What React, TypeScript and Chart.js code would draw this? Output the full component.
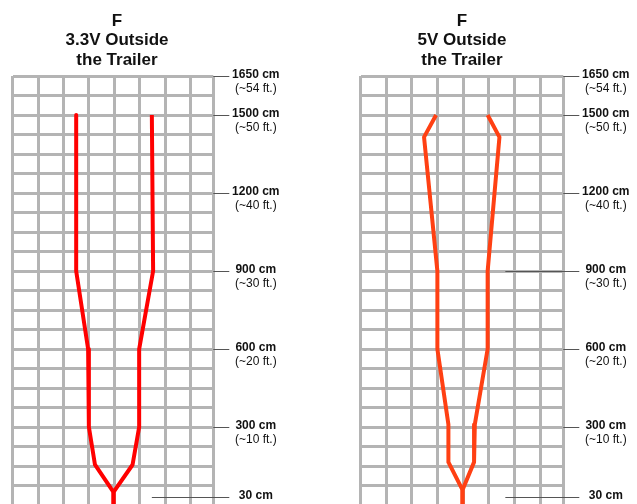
import React, { useEffect, useRef } from "react";
import { Chart, registerables } from "chart.js";

Chart.register(...registerables);

// ---- data ----
const title33 = ["F", "3.3V Outside", "the Trailer"];
const title5 = ["F", "5V Outside", "the Trailer"];

const labelCm = [1650, 1500, 1200, 900, 600, 300, 30];
const cmLabels = ["1650 cm", "1500 cm", "1200 cm", "900 cm", "600 cm", "300 cm", "30 cm"];
const ftLabels = ["(~54 ft.)", "(~50 ft.)", "(~40 ft.)", "(~30 ft.)", "(~20 ft.)", "(~10 ft.)", "(~1 ft.)"];

// leader-line start (grid column units) for each label
const leaderStart33 = [7.9, 7.9, 7.9, 7.9, 7.9, 7.9, 5.48];
const leaderStart5 = [7.9, 7.9, 7.9, 5.64, 7.9, 7.9, 5.64];

// 3.3V boundary (height in cm, lateral position in grid columns)
const heights33 = [1500, 900, 600, 300, 155, 50, 0];
const leftEdge33 = [2.5, 2.5, 2.97, 3.0, 3.24, 3.97, 3.97];
const rightEdge33 = [5.48, 5.53, 4.98, 4.98, 4.72, 3.97, 3.97];

// 5V boundary
const heights5 = [1500, 1415, 900, 600, 310, 165, 58, 0];
const leftEdge5 = [2.94, 2.47, 2.99, 2.99, 3.42, 3.42, 3.97, 3.97];
const rightEdge5 = [4.95, 5.41, 4.95, 4.95, 4.45, 4.42, 3.97, 3.97];

// grid definition
const gridColumns = [0, 1, 2, 3, 4, 5, 6, 7, 7.9];
const gridRowStep = 75;
const yMax = 1650;
const yMin = 4;

const FONT = '"Liberation Sans", Arial, Helvetica, sans-serif';

const annotatePlugin = {
  id: "annotate",
  afterDraw(chart: any, _args: any, opts: any) {
    const { ctx, chartArea, scales } = chart;
    ctx.save();
    ctx.fillStyle = "#111";
    ctx.textAlign = "center";
    ctx.textBaseline = "middle";
    ctx.font = `bold 17px ${FONT}`;
    const cx = (chartArea.left + chartArea.right) / 2 + (opts.titleShift || 0);
    (opts.title as string[]).forEach((t, i) => ctx.fillText(t, cx, 21 + i * 19.7));

    const lx = chartArea.right + 42.5;
    labelCm.forEach((v, i) => {
      const y = scales.y.getPixelForValue(v);
      const xs = scales.x.getPixelForValue(opts.leaders[i]);
      ctx.strokeStyle = "#555";
      ctx.lineWidth = 1;
      ctx.beginPath();
      ctx.moveTo(xs, Math.round(y) + 0.5);
      ctx.lineTo(chartArea.right + 16, Math.round(y) + 0.5);
      ctx.stroke();
      ctx.fillStyle = "#111";
      ctx.font = `bold 12px ${FONT}`;
      ctx.fillText(cmLabels[i], lx, y - 1.5);
      ctx.font = `12px ${FONT}`;
      ctx.fillText(ftLabels[i], lx, y + 12.5);
    });
    ctx.restore();
  },
};

type PanelProps = {
  title: string[];
  heights: number[];
  left: number[];
  right: number[];
  color: string;
  leaders: number[];
  width: number;
  x: number;
  padLeft: number;
  padRight: number;
  titleShift: number;
};

function Panel(p: PanelProps) {
  const ref = useRef<HTMLCanvasElement | null>(null);
  useEffect(() => {
    if (!ref.current) return;
    const mk = (xs: number[]) => p.heights.map((h, i) => ({ x: xs[i], y: h }));
    const chart = new Chart(ref.current, {
      type: "scatter",
      data: {
        datasets: [
          { data: mk(p.left), showLine: true, borderColor: p.color, borderWidth: 4, pointRadius: 0, borderJoinStyle: "round" },
          { data: mk(p.right), showLine: true, borderColor: p.color, borderWidth: 4, pointRadius: 0, borderJoinStyle: "round" },
        ],
      } as any,
      options: {
        responsive: false,
        animation: false,
        layout: { padding: { left: p.padLeft, right: p.padRight, top: 76, bottom: 0 } },
        plugins: {
          legend: { display: false },
          tooltip: { enabled: false },
          annotate: { title: p.title, leaders: p.leaders, titleShift: p.titleShift },
        } as any,
        scales: {
          x: {
            type: "linear",
            min: 0,
            max: 7.9,
            afterBuildTicks: (s: any) => {
              s.ticks = gridColumns.map((v) => ({ value: v }));
            },
            afterFit: (s: any) => {
              s.height = 0;
            },
            ticks: { display: false },
            grid: { color: "#b4b4b4", lineWidth: 3, drawTicks: false },
            border: { display: false },
          },
          y: {
            type: "linear",
            min: yMin,
            max: yMax,
            afterBuildTicks: (s: any) => {
              const t: any[] = [];
              for (let v = yMax; v >= yMin; v -= gridRowStep) t.push({ value: v });
              s.ticks = t.reverse();
            },
            afterFit: (s: any) => {
              s.width = 0;
            },
            ticks: { display: false },
            grid: { color: "#b4b4b4", lineWidth: 3, drawTicks: false },
            border: { display: false },
          },
        } as any,
      },
      plugins: [annotatePlugin],
    });
    return () => chart.destroy();
  }, []);
  return (
    <canvas
      ref={ref}
      width={p.width}
      height={504}
      style={{ position: "absolute", left: p.x, top: 0, width: p.width, height: 504 }}
    />
  );
}

export default function App() {
  return (
    <div style={{ position: "fixed", left: 0, top: 0, width: 637, height: 504, overflow: "hidden", background: "#fff" }}>
      <Panel
        title={title33}
        heights={heights33}
        left={leftEdge33}
        right={rightEdge33}
        color="#ff0000"
        leaders={leaderStart33}
        width={320}
        x={0}
        padLeft={12.7}
        padRight={106.7}
        titleShift={4}
      />
      <Panel
        title={title5}
        heights={heights5}
        left={leftEdge5}
        right={rightEdge5}
        color="#ff4013"
        leaders={leaderStart5}
        width={317}
        x={320}
        padLeft={40.7}
        padRight={73.7}
        titleShift={0}
      />
    </div>
  );
}
